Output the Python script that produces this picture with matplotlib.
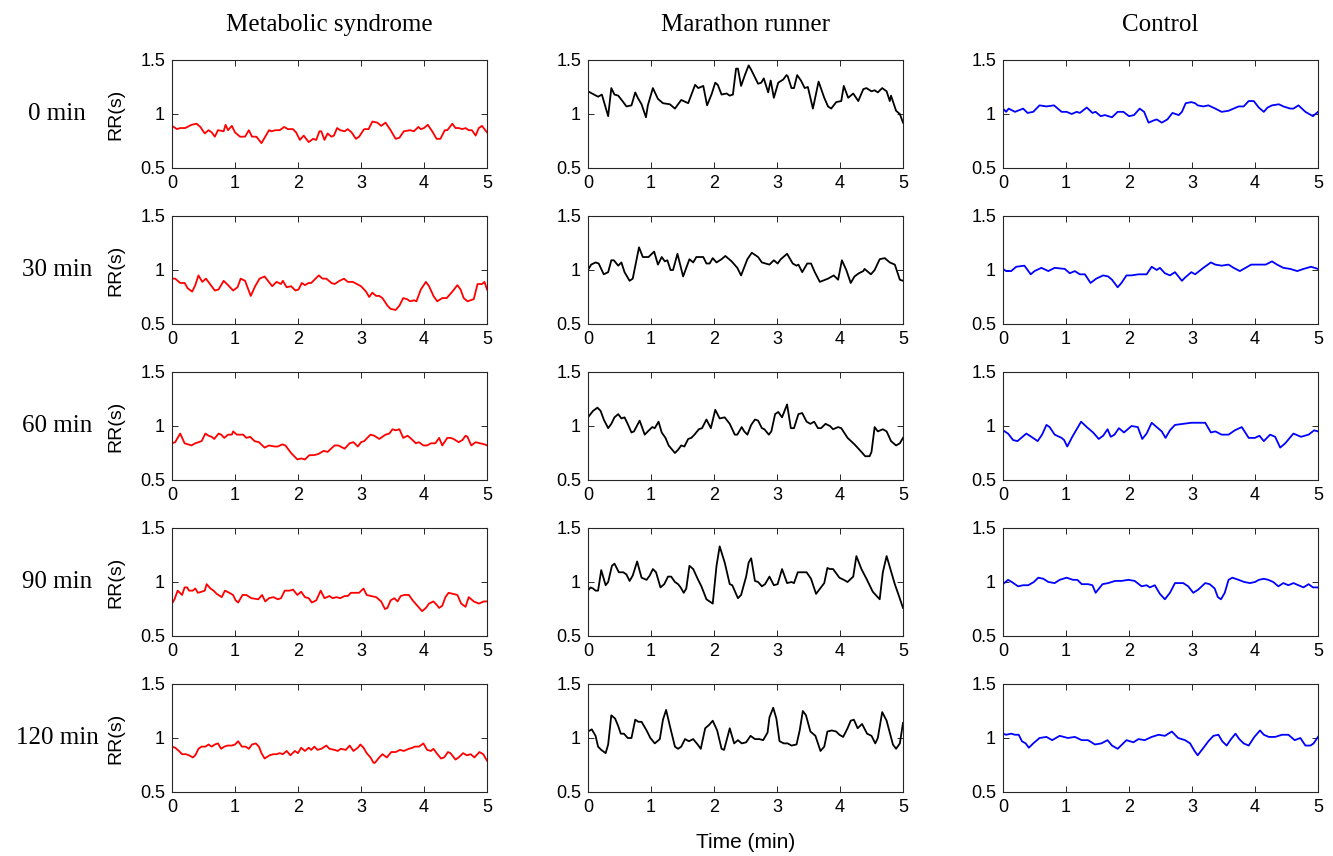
import matplotlib
matplotlib.use("Agg")
import matplotlib.pyplot as plt
from matplotlib.ticker import FormatStrFormatter

# ---- Metabolic syndrome (red) ----
t_ms_0 = [0.00,0.08,0.13,0.21,0.31,0.39,0.45,0.52,0.58,0.63,
          0.68,0.73,0.82,0.85,0.89,0.95,1.00,1.08,1.16,1.22,
          1.27,1.34,1.42,1.47,1.54,1.58,1.64,1.71,1.78,1.84,
          1.92,1.97,2.03,2.09,2.17,2.24,2.29,2.34,2.37,2.42,
          2.47,2.53,2.57,2.62,2.67,2.74,2.79,2.85,2.92,2.97,
          3.05,3.12,3.18,3.26,3.32,3.39,3.47,3.55,3.61,3.68,
          3.78,3.84,3.91,3.95,4.00,4.06,4.13,4.20,4.26,4.33,
          4.37,4.45,4.50,4.55,4.61,4.66,4.71,4.76,4.82,4.87,
          4.92,5.00]
rr_ms_0 = [0.89,0.86,0.87,0.87,0.90,0.91,0.88,0.82,0.85,0.83,
           0.79,0.85,0.84,0.90,0.85,0.89,0.83,0.79,0.79,0.85,
           0.79,0.79,0.73,0.78,0.85,0.84,0.85,0.85,0.88,0.86,
           0.86,0.83,0.76,0.80,0.74,0.77,0.76,0.84,0.84,0.76,
           0.82,0.79,0.80,0.87,0.85,0.84,0.86,0.83,0.77,0.79,
           0.86,0.86,0.93,0.92,0.89,0.92,0.85,0.77,0.78,0.84,
           0.85,0.84,0.88,0.86,0.87,0.90,0.84,0.77,0.77,0.85,
           0.85,0.91,0.87,0.87,0.86,0.87,0.85,0.85,0.80,0.87,
           0.89,0.83]

t_ms_30 = [0.00,0.05,0.13,0.20,0.25,0.32,0.37,0.42,0.48,0.54,
           0.59,0.68,0.74,0.82,0.89,0.97,1.04,1.09,1.16,1.25,
           1.32,1.39,1.47,1.59,1.66,1.73,1.76,1.82,1.89,1.96,
           2.01,2.06,2.11,2.17,2.21,2.33,2.39,2.45,2.53,2.58,
           2.66,2.73,2.79,2.87,3.00,3.08,3.13,3.18,3.24,3.29,
           3.34,3.42,3.47,3.55,3.61,3.67,3.73,3.78,3.84,3.88,
           3.95,4.03,4.08,4.15,4.21,4.29,4.36,4.45,4.53,4.58,
           4.63,4.69,4.79,4.85,4.92,4.96,5.00]
rr_ms_30 = [0.92,0.92,0.88,0.88,0.83,0.80,0.86,0.95,0.89,0.92,
            0.88,0.81,0.82,0.90,0.86,0.81,0.84,0.92,0.90,0.76,
            0.85,0.92,0.94,0.85,0.89,0.87,0.90,0.84,0.85,0.81,
            0.82,0.88,0.86,0.88,0.88,0.95,0.92,0.92,0.88,0.87,
            0.90,0.92,0.89,0.89,0.85,0.80,0.75,0.79,0.76,0.76,
            0.74,0.67,0.64,0.63,0.67,0.74,0.73,0.71,0.72,0.71,
            0.82,0.89,0.85,0.76,0.71,0.74,0.74,0.80,0.86,0.82,
            0.74,0.71,0.73,0.87,0.87,0.89,0.82]

t_ms_60 = [0.00,0.05,0.13,0.20,0.31,0.37,0.47,0.53,0.58,0.63,
           0.67,0.74,0.78,0.83,0.89,0.95,0.97,1.03,1.08,1.13,
           1.18,1.24,1.31,1.38,1.47,1.54,1.63,1.68,1.75,1.80,
           1.89,1.99,2.05,2.11,2.18,2.25,2.32,2.41,2.47,2.58,
           2.64,2.74,2.82,2.88,2.95,3.00,3.05,3.15,3.21,3.29,
           3.39,3.45,3.50,3.55,3.61,3.67,3.74,3.80,3.87,3.92,
           3.99,4.05,4.11,4.18,4.24,4.29,4.37,4.42,4.47,4.55,
           4.61,4.66,4.69,4.75,4.82,4.89,4.96,5.00]
rr_ms_60 = [0.84,0.85,0.93,0.84,0.82,0.84,0.86,0.93,0.91,0.90,
            0.88,0.93,0.92,0.89,0.92,0.92,0.95,0.92,0.92,0.92,
            0.89,0.90,0.86,0.85,0.80,0.82,0.81,0.81,0.83,0.82,
            0.75,0.69,0.70,0.69,0.73,0.73,0.74,0.77,0.76,0.82,
            0.82,0.79,0.84,0.85,0.81,0.85,0.86,0.92,0.91,0.88,
            0.92,0.93,0.97,0.96,0.97,0.89,0.91,0.88,0.84,0.85,
            0.82,0.82,0.84,0.84,0.89,0.82,0.89,0.89,0.88,0.85,
            0.87,0.91,0.90,0.82,0.85,0.84,0.83,0.82]

t_ms_90 = [0.00,0.04,0.09,0.16,0.20,0.24,0.27,0.33,0.37,0.41,
           0.47,0.52,0.55,0.61,0.66,0.71,0.79,0.84,0.91,0.97,
           1.01,1.05,1.12,1.18,1.26,1.37,1.43,1.48,1.54,1.61,
           1.68,1.73,1.79,1.87,1.92,1.99,2.05,2.11,2.17,2.22,
           2.29,2.36,2.42,2.50,2.55,2.61,2.67,2.74,2.79,2.84,
           2.97,3.04,3.09,3.16,3.24,3.32,3.38,3.42,3.47,3.53,
           3.58,3.63,3.69,3.76,3.82,3.88,3.97,4.03,4.08,4.15,
           4.20,4.24,4.29,4.34,4.39,4.46,4.53,4.59,4.66,4.71,
           4.79,4.87,4.95,5.00]
rr_ms_90 = [0.80,0.84,0.92,0.88,0.95,0.95,0.92,0.92,0.94,0.90,
            0.91,0.92,0.98,0.94,0.92,0.89,0.86,0.92,0.90,0.88,
            0.83,0.81,0.88,0.88,0.85,0.84,0.88,0.82,0.85,0.86,
            0.84,0.85,0.92,0.92,0.93,0.88,0.91,0.86,0.85,0.81,
            0.83,0.92,0.85,0.87,0.85,0.86,0.85,0.87,0.87,0.90,
            0.90,0.94,0.88,0.87,0.86,0.82,0.75,0.76,0.83,0.85,
            0.82,0.87,0.88,0.88,0.83,0.79,0.73,0.76,0.80,0.82,
            0.79,0.76,0.78,0.86,0.90,0.89,0.88,0.80,0.77,0.86,
            0.82,0.80,0.82,0.82]

t_ms_120 = [0.00,0.05,0.11,0.16,0.22,0.27,0.33,0.37,0.42,0.47,
            0.53,0.58,0.63,0.68,0.73,0.78,0.83,0.88,0.95,1.00,
            1.05,1.11,1.17,1.22,1.27,1.33,1.38,1.42,1.47,1.55,
            1.61,1.66,1.71,1.76,1.82,1.88,1.95,2.00,2.05,2.11,
            2.17,2.21,2.26,2.31,2.37,2.45,2.50,2.58,2.63,2.68,
            2.76,2.82,2.88,2.95,2.99,3.04,3.09,3.15,3.20,3.22,
            3.29,3.34,3.41,3.48,3.55,3.62,3.68,3.76,3.82,3.85,
            3.92,3.99,4.05,4.11,4.15,4.20,4.27,4.32,4.38,4.42,
            4.50,4.55,4.62,4.68,4.74,4.80,4.88,4.94,5.00]
rr_ms_120 = [0.92,0.91,0.88,0.85,0.85,0.84,0.82,0.84,0.90,0.92,
             0.92,0.94,0.92,0.94,0.95,0.90,0.92,0.93,0.93,0.94,
             0.97,0.92,0.92,0.90,0.94,0.95,0.92,0.86,0.81,0.84,
             0.85,0.85,0.86,0.85,0.88,0.84,0.88,0.86,0.91,0.88,
             0.91,0.89,0.92,0.89,0.90,0.93,0.90,0.89,0.88,0.90,
             0.89,0.93,0.88,0.91,0.94,0.91,0.86,0.82,0.77,0.77,
             0.82,0.85,0.82,0.87,0.87,0.89,0.88,0.90,0.91,0.92,
             0.92,0.95,0.89,0.88,0.90,0.86,0.81,0.82,0.87,0.86,
             0.80,0.82,0.86,0.84,0.85,0.82,0.87,0.85,0.79]

# ---- Marathon runner (black) ----
t_mr_0 = [0.00,0.16,0.22,0.32,0.37,0.42,0.48,0.56,0.61,0.69,
          0.75,0.79,0.85,0.92,0.95,1.03,1.11,1.19,1.30,1.38,
          1.43,1.48,1.59,1.70,1.75,1.83,1.89,1.96,2.02,2.06,
          2.12,2.20,2.25,2.30,2.35,2.38,2.43,2.49,2.55,2.59,
          2.70,2.75,2.79,2.86,2.90,2.95,3.02,3.10,3.15,3.17,
          3.23,3.27,3.32,3.38,3.44,3.49,3.57,3.66,3.75,3.81,
          3.86,3.94,4.02,4.06,4.13,4.21,4.29,4.37,4.42,4.50,
          4.55,4.60,4.67,4.74,4.79,4.81,4.89,4.95,5.00]
rr_mr_0 = [1.21,1.16,1.18,0.98,1.24,1.18,1.17,1.11,1.07,1.08,
           1.20,1.15,1.09,0.97,1.08,1.24,1.14,1.10,1.09,1.05,
           1.09,1.13,1.10,1.27,1.24,1.26,1.08,1.18,1.29,1.27,
           1.18,1.19,1.17,1.18,1.42,1.42,1.26,1.36,1.45,1.41,
           1.28,1.29,1.33,1.20,1.31,1.15,1.29,1.32,1.36,1.35,
           1.24,1.24,1.36,1.31,1.24,1.25,1.05,1.30,1.15,1.07,
           1.05,1.11,1.12,1.26,1.15,1.19,1.12,1.23,1.24,1.21,
           1.22,1.20,1.24,1.21,1.12,1.17,1.03,1.00,0.92]

t_mr_30 = [0.00,0.05,0.12,0.17,0.25,0.32,0.37,0.41,0.48,0.53,
           0.58,0.66,0.71,0.81,0.87,0.96,1.05,1.11,1.17,1.22,
           1.26,1.31,1.35,1.42,1.51,1.61,1.67,1.72,1.83,1.88,
           1.93,1.98,2.04,2.12,2.18,2.28,2.37,2.43,2.53,2.60,
           2.70,2.76,2.88,2.95,3.01,3.06,3.16,3.25,3.31,3.34,
           3.40,3.48,3.54,3.60,3.68,3.81,3.90,3.97,4.03,4.10,
           4.17,4.23,4.30,4.37,4.39,4.49,4.55,4.63,4.71,4.79,
           4.87,4.95,5.00]
rr_mr_30 = [1.00,1.05,1.07,1.06,0.96,0.98,1.09,1.09,1.04,1.07,
            0.98,0.90,0.92,1.21,1.12,1.12,1.17,1.05,1.12,1.08,
            1.09,1.00,1.00,1.15,0.94,1.10,1.07,1.12,1.12,1.06,
            1.06,1.11,1.07,1.10,1.13,1.08,1.02,0.95,1.10,1.16,
            1.12,1.07,1.05,1.09,1.06,1.10,1.15,1.06,1.04,1.05,
            0.98,1.06,1.06,0.98,0.89,0.92,0.95,0.91,1.09,1.00,
            0.88,0.94,0.97,0.99,1.01,0.96,1.00,1.10,1.11,1.07,
            1.05,0.91,0.90]

t_mr_60 = [0.00,0.08,0.15,0.20,0.25,0.32,0.37,0.42,0.48,0.53,
           0.58,0.63,0.69,0.73,0.82,0.90,0.95,1.02,1.06,1.12,
           1.17,1.23,1.28,1.38,1.43,1.48,1.53,1.59,1.64,1.69,
           1.76,1.81,1.88,1.95,2.02,2.09,2.17,2.25,2.33,2.37,
           2.44,2.48,2.53,2.59,2.65,2.70,2.76,2.80,2.87,2.91,
           2.97,3.02,3.08,3.16,3.22,3.27,3.34,3.40,3.47,3.53,
           3.59,3.65,3.70,3.77,3.84,3.89,3.97,4.02,4.12,4.23,
           4.34,4.40,4.47,4.50,4.55,4.60,4.68,4.74,4.81,4.89,
           4.95,5.00]
rr_mr_60 = [1.08,1.14,1.17,1.14,1.06,0.98,1.02,1.08,1.11,1.07,
            1.08,1.02,0.94,0.95,1.05,0.92,0.95,0.99,0.98,1.04,
            0.94,0.89,0.82,0.75,0.78,0.82,0.81,0.88,0.89,0.92,
            0.97,0.98,1.06,0.98,1.15,1.07,1.08,1.02,0.92,0.92,
            0.99,0.95,0.92,1.01,1.06,1.05,0.98,0.97,0.92,0.95,
            1.11,1.13,1.08,1.20,0.98,0.98,1.11,1.12,1.04,1.02,
            1.04,0.98,0.98,1.02,1.00,0.97,0.99,0.98,0.89,0.83,
            0.76,0.72,0.72,0.76,0.99,0.95,0.97,0.95,0.86,0.82,
            0.84,0.89]

t_mr_90 = [0.00,0.04,0.08,0.12,0.16,0.21,0.28,0.32,0.38,0.42,
           0.49,0.56,0.61,0.66,0.71,0.78,0.85,0.93,0.98,1.03,
           1.08,1.15,1.21,1.27,1.32,1.38,1.43,1.47,1.52,1.56,
           1.61,1.67,1.74,1.80,1.88,1.93,1.98,2.04,2.09,2.17,
           2.25,2.29,2.38,2.43,2.51,2.55,2.59,2.65,2.70,2.76,
           2.81,2.88,2.95,3.01,3.08,3.16,3.23,3.27,3.33,3.47,
           3.54,3.62,3.75,3.80,3.84,3.89,3.94,3.99,4.06,4.12,
           4.21,4.26,4.34,4.42,4.52,4.63,4.68,4.74,4.79,4.87,
           4.93,5.00]
rr_mr_90 = [0.92,0.95,0.94,0.92,0.92,1.11,0.97,1.00,1.15,1.17,
            1.09,1.09,1.07,1.01,1.06,1.19,1.04,1.02,1.06,1.12,
            1.09,0.95,0.98,1.05,1.05,1.00,0.98,0.95,0.90,0.94,
            1.15,1.12,1.03,0.96,0.84,0.82,0.80,1.15,1.33,1.18,
            0.98,0.97,0.85,0.88,1.05,1.18,1.22,1.01,1.00,0.96,
            0.98,1.05,0.97,0.98,1.12,0.99,1.00,0.99,1.09,1.09,
            1.03,0.89,0.99,1.13,1.12,1.12,1.08,1.04,1.02,1.00,
            1.05,1.24,1.12,1.03,0.91,0.84,1.09,1.24,1.14,0.98,
            0.88,0.76]

t_mr_120 = [0.00,0.06,0.12,0.16,0.21,0.28,0.32,0.37,0.43,0.48,
            0.52,0.57,0.63,0.69,0.75,0.80,0.85,0.93,0.99,1.06,
            1.14,1.19,1.24,1.30,1.38,1.43,1.48,1.54,1.60,1.67,
            1.74,1.79,1.86,1.92,1.98,2.05,2.12,2.16,2.25,2.32,
            2.38,2.44,2.51,2.58,2.65,2.72,2.78,2.85,2.88,2.94,
            2.99,3.04,3.11,3.17,3.23,3.31,3.36,3.41,3.46,3.53,
            3.61,3.69,3.75,3.80,3.87,3.94,3.99,4.05,4.12,4.17,
            4.22,4.28,4.35,4.43,4.50,4.56,4.60,4.67,4.74,4.84,
            4.89,4.95,5.00]
rr_mr_120 = [1.06,1.08,1.02,0.92,0.89,0.86,0.94,1.21,1.18,1.11,
             1.04,1.04,1.00,1.00,1.17,1.15,1.15,1.07,1.00,0.95,
             0.99,1.17,1.26,1.11,0.92,0.90,0.92,0.99,0.97,0.99,
             0.94,0.90,1.09,1.12,1.16,1.07,0.90,0.89,1.09,0.95,
             0.98,0.95,0.96,1.02,0.99,0.99,0.98,1.05,1.19,1.28,
             1.18,0.97,0.95,0.95,0.93,0.94,1.07,1.25,1.21,1.06,
             1.02,0.88,0.92,1.06,1.07,1.06,1.03,1.01,1.09,1.16,
             1.17,1.09,1.13,1.04,1.02,0.95,1.00,1.24,1.16,0.94,
             0.90,0.95,1.14]

# ---- Control (blue) ----
t_ct_0 = [0.00,0.05,0.09,0.19,0.32,0.39,0.48,0.58,0.69,0.81,
          0.93,1.01,1.09,1.17,1.22,1.33,1.42,1.47,1.55,1.62,
          1.67,1.73,1.82,1.91,2.00,2.08,2.17,2.24,2.31,2.39,
          2.44,2.52,2.61,2.69,2.79,2.84,2.90,2.99,3.05,3.09,
          3.18,3.26,3.37,3.47,3.58,3.66,3.74,3.82,3.90,3.98,
          4.06,4.14,4.20,4.27,4.38,4.45,4.56,4.61,4.69,4.80,
          4.92,5.00]
rr_ct_0 = [1.05,1.02,1.05,1.02,1.05,1.01,1.02,1.08,1.07,1.08,
           1.02,1.02,1.00,1.02,1.01,1.06,1.01,1.02,0.98,0.99,
           0.98,0.97,1.02,1.02,0.98,0.99,1.05,1.02,0.92,0.94,
           0.95,0.92,0.95,1.01,0.99,1.02,1.10,1.11,1.10,1.08,
           1.07,1.08,1.05,1.02,1.03,1.05,1.07,1.07,1.12,1.12,
           1.06,1.02,1.06,1.08,1.09,1.07,1.05,1.05,1.08,1.02,
           0.98,1.02]

t_ct_30 = [0.00,0.05,0.13,0.21,0.34,0.44,0.50,0.61,0.72,0.82,
           0.98,1.06,1.14,1.22,1.30,1.39,1.48,1.59,1.67,1.73,
           1.82,1.88,1.96,2.04,2.15,2.28,2.36,2.44,2.49,2.57,
           2.65,2.73,2.84,2.89,2.99,3.05,3.18,3.30,3.37,3.47,
           3.58,3.66,3.76,3.85,3.94,4.06,4.17,4.27,4.35,4.45,
           4.56,4.67,4.77,4.89,5.00]
rr_ct_30 = [1.01,0.99,0.99,1.03,1.04,0.96,0.99,1.02,0.99,1.02,
            1.01,0.97,0.99,0.96,0.96,0.88,0.92,0.95,0.94,0.91,
            0.84,0.88,0.95,0.95,0.96,0.96,1.03,1.00,1.02,0.97,
            0.95,0.98,0.90,0.93,0.98,0.96,1.02,1.07,1.05,1.04,
            1.05,1.02,0.99,1.02,1.05,1.05,1.05,1.08,1.05,1.02,
            1.01,0.99,1.01,1.03,1.01]

t_ct_60 = [0.00,0.08,0.16,0.23,0.37,0.45,0.55,0.62,0.69,0.74,
           0.82,0.93,0.97,1.02,1.10,1.24,1.33,1.43,1.52,1.59,
           1.66,1.71,1.77,1.84,1.92,2.04,2.14,2.21,2.28,2.36,
           2.44,2.52,2.58,2.65,2.73,2.86,2.99,3.10,3.21,3.30,
           3.37,3.47,3.58,3.68,3.79,3.90,4.00,4.07,4.14,4.24,
           4.32,4.40,4.48,4.61,4.73,4.85,4.94,5.00]
rr_ct_60 = [0.96,0.93,0.87,0.86,0.93,0.90,0.86,0.92,1.01,0.99,
            0.92,0.89,0.87,0.81,0.90,1.04,0.99,0.94,0.88,0.91,
            0.97,0.90,0.92,0.98,0.94,1.00,0.99,0.88,0.93,1.03,
            0.99,0.95,0.89,0.96,1.01,1.02,1.03,1.03,1.03,0.94,
            0.95,0.92,0.92,0.96,0.99,0.89,0.89,0.91,0.86,0.92,
            0.90,0.80,0.84,0.93,0.90,0.92,0.96,0.95]

t_ct_90 = [0.00,0.08,0.14,0.24,0.32,0.40,0.49,0.56,0.64,0.72,
           0.82,0.90,1.01,1.11,1.18,1.25,1.35,1.42,1.47,1.58,
           1.67,1.78,1.88,1.99,2.09,2.20,2.28,2.33,2.41,2.49,
           2.57,2.65,2.73,2.86,2.94,3.02,3.10,3.21,3.28,3.36,
           3.41,3.46,3.52,3.58,3.64,3.74,3.83,3.92,4.00,4.06,
           4.14,4.21,4.29,4.37,4.45,4.53,4.61,4.69,4.77,4.85,
           4.92,5.00]
rr_ct_90 = [0.98,1.02,1.00,0.96,0.97,0.97,1.00,1.04,1.03,1.00,
            0.99,1.02,1.04,1.02,1.02,0.98,0.98,0.97,0.90,0.98,
            0.99,1.01,1.01,1.02,1.01,0.96,0.97,0.95,0.97,0.89,
            0.84,0.90,0.99,0.99,0.96,0.90,0.93,0.99,0.98,0.94,
            0.86,0.84,0.90,1.02,1.04,1.02,1.00,0.99,1.00,1.02,
            1.03,1.02,1.00,0.96,0.99,0.97,0.99,0.97,0.95,0.98,
            0.95,0.95]

t_ct_120 = [0.00,0.05,0.13,0.19,0.25,0.30,0.36,0.41,0.48,0.58,
            0.69,0.78,0.90,1.03,1.14,1.25,1.35,1.46,1.56,1.66,
            1.73,1.82,1.96,2.07,2.15,2.25,2.36,2.47,2.57,2.68,
            2.78,2.89,2.97,3.04,3.09,3.17,3.26,3.34,3.42,3.48,
            3.55,3.62,3.69,3.75,3.82,3.90,3.99,4.08,4.14,4.22,
            4.32,4.43,4.53,4.63,4.72,4.80,4.88,4.93,5.00]
rr_ct_120 = [1.04,1.03,1.04,1.03,1.03,0.97,0.95,0.91,0.95,1.00,
             1.01,0.98,1.02,1.00,1.01,0.98,0.98,0.94,0.95,0.98,
             0.93,0.90,0.98,0.96,0.99,0.98,1.01,1.03,1.02,1.06,
             1.00,0.98,0.95,0.88,0.84,0.90,0.97,1.02,1.03,0.97,
             0.93,0.99,1.04,0.99,0.95,0.93,1.01,1.07,1.03,1.01,
             1.01,1.03,1.03,0.98,1.00,0.93,0.93,0.95,1.01]

groups = ["Metabolic syndrome", "Marathon runner", "Control"]
sessions = ["0 min", "30 min", "60 min", "90 min", "120 min"]
line_colors = ["#ff0000", "#000000", "#0000ff"]
x_ticks = [0, 1, 2, 3, 4, 5]
y_ticks = [0.5, 1, 1.5]

series = [
    [(t_ms_0, rr_ms_0), (t_mr_0, rr_mr_0), (t_ct_0, rr_ct_0)],
    [(t_ms_30, rr_ms_30), (t_mr_30, rr_mr_30), (t_ct_30, rr_ct_30)],
    [(t_ms_60, rr_ms_60), (t_mr_60, rr_mr_60), (t_ct_60, rr_ct_60)],
    [(t_ms_90, rr_ms_90), (t_mr_90, rr_mr_90), (t_ct_90, rr_ct_90)],
    [(t_ms_120, rr_ms_120), (t_mr_120, rr_mr_120), (t_ct_120, rr_ct_120)],
]

plt.rcParams['font.family'] = ['Liberation Sans', 'DejaVu Sans']

W, H = 1333, 856
fig = plt.figure(figsize=(W / 100, H / 100), dpi=100)

# axes layout in pixels (MATLAB subplot grid)
col_left = [172, 588, 1003]
row_top = [60, 216, 372, 528, 684]
ax_w, ax_h = 315, 108
frame = '#262626'

for r in range(5):
    for c in range(3):
        ax = fig.add_axes([col_left[c] / W, 1 - (row_top[r] + ax_h) / H,
                           ax_w / W, ax_h / H])
        t, rr = series[r][c]
        ax.plot(t, rr, color=line_colors[c], lw=1.3)
        ax.set_xlim(0, 5)
        ax.set_ylim(0.5, 1.5)
        ax.set_xticks(x_ticks)
        ax.set_yticks(y_ticks)
        ax.yaxis.set_major_formatter(FormatStrFormatter('%g'))
        ax.tick_params(direction='in', top=True, right=True, length=4,
                       width=0.7, color=frame, labelcolor='black',
                       labelsize=13, pad=5)
        for sp in ax.spines.values():
            sp.set_linewidth(0.8)
            sp.set_color(frame)

        if c == 0:
            yc = 1 - (row_top[r] + ax_h / 2) / H
            fig.text(57 / W, yc, sessions[r], ha='center', va='center',
                     family='Liberation Serif', fontsize=18)
            fig.text(116 / W, yc, "RR(s)", ha='center', va='center',
                     rotation=90, fontsize=14)

for c in range(3):
    fig.text((col_left[c] + ax_w / 2) / W, 1 - 25 / H, groups[c],
             ha='center', va='center', family='Liberation Serif', fontsize=18)

fig.text((col_left[1] + ax_w / 2) / W, 1 - 843 / H, "Time (min)",
         ha='center', va='center', fontsize=15)

fig.savefig("out.png", dpi=100)
